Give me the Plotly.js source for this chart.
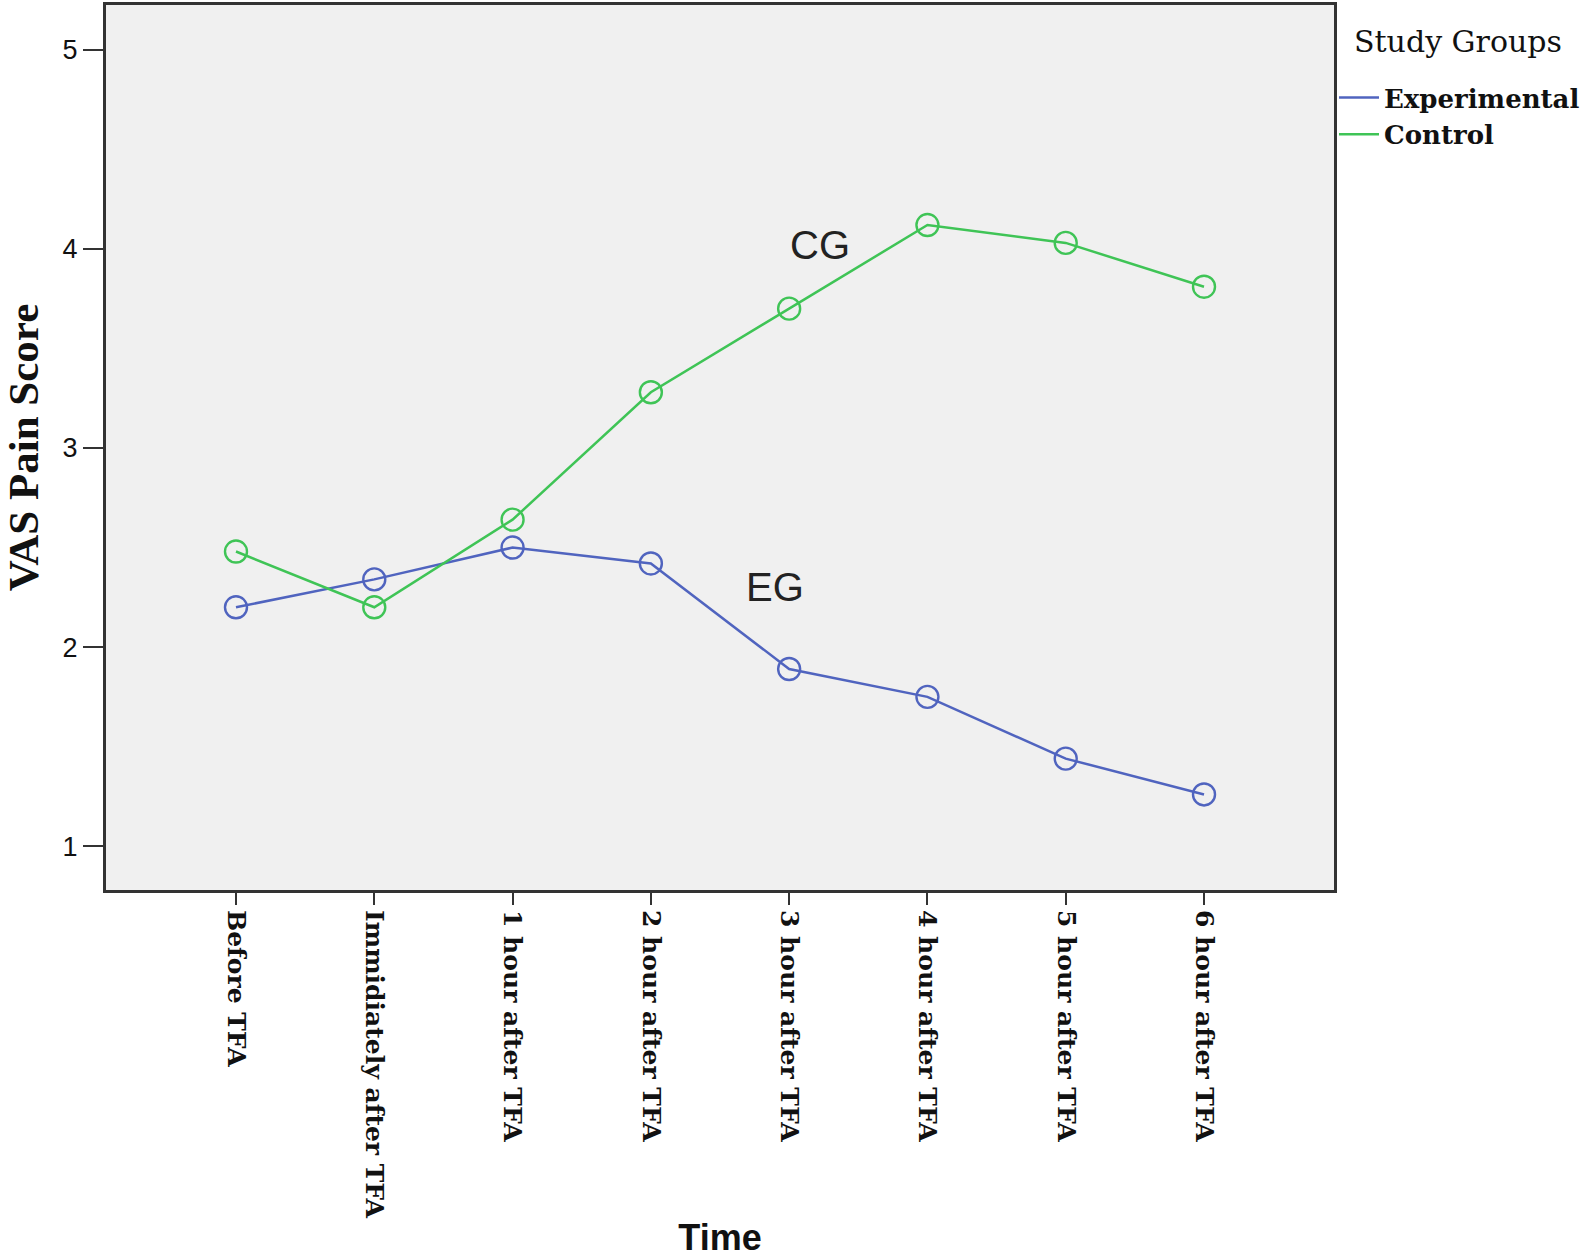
<!DOCTYPE html>
<html>
<head>
<meta charset="utf-8">
<script src="https://cdn.plot.ly/plotly-3.0.1.min.js"></script>
<style>
html,body{margin:0;padding:0;background:#fff;}
#chart{width:1594px;height:1258px;}
</style>
</head>
<body>
<div id="chart"></div>
<script>
const categories = ["Before TFA", "Immidiately after TFA", "1 hour after TFA", "2 hour after TFA",
  "3 hour after TFA", "4 hour after TFA", "5 hour after TFA", "6 hour after TFA"];
const experimental = [2.20, 2.34, 2.50, 2.42, 1.89, 1.75, 1.44, 1.26];
const control = [2.48, 2.20, 2.64, 3.28, 3.70, 4.12, 4.03, 3.81];
const seriesNames = ["Experimental", "Control"];
const legendTitle = "Study Groups";
const yTicks = [1, 2, 3, 4, 5];
const labels = [{text: "CG", x: 4.22, y: 4.02}, {text: "EG", x: 3.90, y: 2.30}];

const blue = "#5064bf";
const green = "#3fc456";
const idx = categories.map((c, i) => i);

function lineTrace(vals, name, color) {
  return {x: idx, y: vals, name: name, mode: "lines", type: "scatter",
    line: {color: color, width: 2.5}, legendgroup: name, showlegend: true, hoverinfo: "skip"};
}
function markerTrace(vals, name, color) {
  return {x: idx, y: vals, name: name, mode: "markers", type: "scatter",
    marker: {symbol: "circle-open", size: 22, color: color, line: {width: 2.4, color: color}},
    legendgroup: name, showlegend: false};
}

const data = [
  lineTrace(experimental, seriesNames[0], blue),
  lineTrace(control, seriesNames[1], green),
  markerTrace(experimental, seriesNames[0], blue),
  markerTrace(control, seriesNames[1], green)
];

const serif = "DejaVu Serif, serif";
const annots = labels.map(a => ({
  x: a.x, y: a.y, xref: "x", yref: "y", text: a.text, showarrow: false,
  font: {family: "Liberation Sans, Arial, sans-serif", size: 40, color: "#222"}
}));
annots.push({
  x: 1.015, y: 0.959, xref: "paper", yref: "paper", xanchor: "left", yanchor: "middle",
  text: legendTitle, showarrow: false,
  font: {family: serif, size: 30, color: "#111"}
});

const layout = {
  width: 1594, height: 1258,
  margin: {l: 106, r: 260, t: 5, b: 368},
  paper_bgcolor: "#ffffff",
  plot_bgcolor: "#f0f0f0",
  showlegend: true,
  legend: {
    x: 1.0, xanchor: "left", y: 0.922, yanchor: "top",
    bgcolor: "rgba(0,0,0,0)",
    font: {family: serif, size: 26, color: "#111", weight: "bold"},
    tracegroupgap: 0, itemwidth: 40
  },
  xaxis: {
    range: [-0.94, 7.94],
    tickmode: "array", tickvals: idx, ticktext: categories,
    tickangle: 90,
    ticks: "outside", ticklen: 12, tickwidth: 2, tickcolor: "#333",
    tickfont: {family: serif, size: 25, color: "#111", weight: "bold"},
    showgrid: false, zeroline: false,
    showline: true, linecolor: "#333", linewidth: 3, mirror: true,
    title: {text: "<b>Time</b>", font: {family: "Liberation Sans, Arial, sans-serif", size: 36, color: "#111"}, standoff: 65}
  },
  yaxis: {
    range: [0.78, 5.225],
    tickmode: "array", tickvals: yTicks, ticktext: yTicks.map(String),
    ticks: "outside", ticklen: 20, tickwidth: 2, tickcolor: "#333",
    tickfont: {family: "Liberation Sans, Arial, sans-serif", size: 27, color: "#111"},
    showgrid: false, zeroline: false,
    showline: true, linecolor: "#333", linewidth: 3, mirror: true,
    title: {text: "<b>VAS Pain Score</b>", font: {family: "Liberation Serif, Times New Roman, serif", size: 43, color: "#111"}, standoff: 16}
  },
  annotations: annots
};

Plotly.newPlot("chart", data, layout, {displayModeBar: false, staticPlot: true});
</script>
</body>
</html>
